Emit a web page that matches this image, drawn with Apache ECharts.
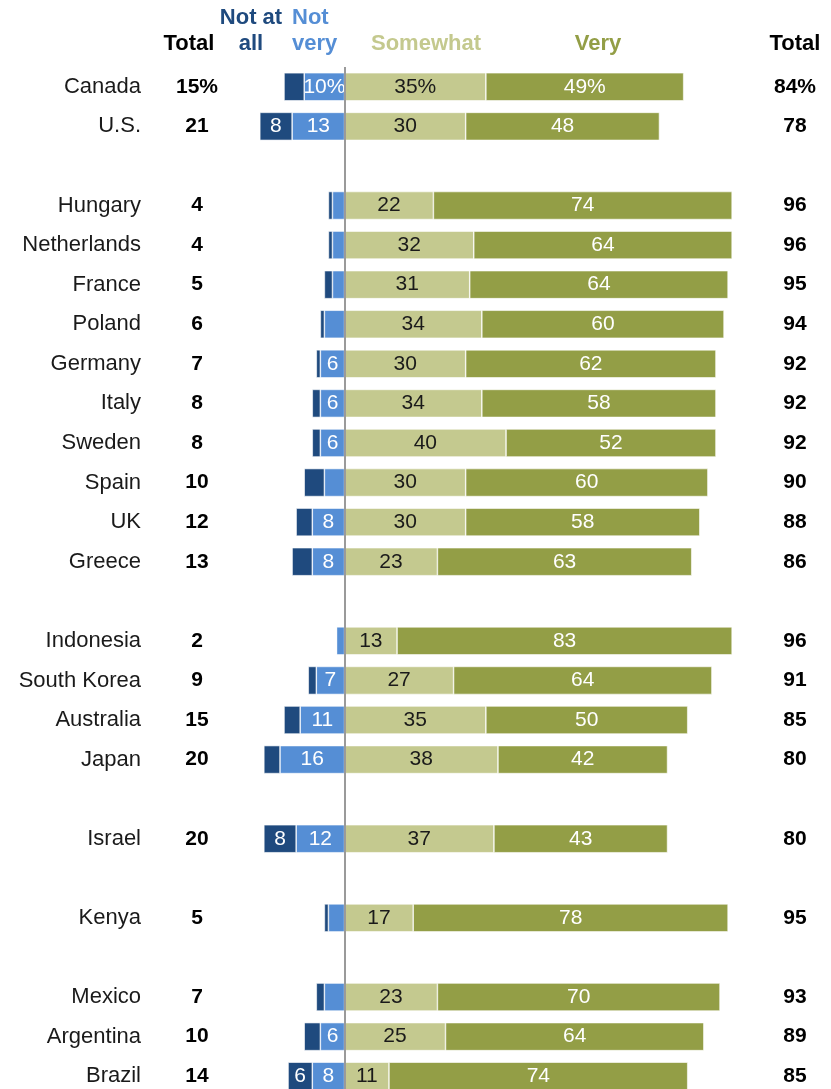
<!DOCTYPE html>
<html>
<head>
<meta charset="utf-8">
<script src="https://cdn.jsdelivr.net/npm/echarts@6/dist/echarts.min.js"></script>
<style>
html,body{margin:0;padding:0;background:#fff;}
#chart{width:831px;height:1089px;}
</style>
</head>
<body>
<div id="chart"></div>
<script>
const countries = ['Canada','U.S.',' ','Hungary','Netherlands','France','Poland','Germany','Italy','Sweden','Spain','UK','Greece','  ','Indonesia','South Korea','Australia','Japan','   ','Israel','    ','Kenya','     ','Mexico','Argentina','Brazil'];
const notAtAll = [5,8,null,1,1,2,1,1,2,2,5,4,5,null,0,2,4,4,null,8,null,1,null,2,4,6];
const notVery  = [10,13,null,3,3,3,5,6,6,6,5,8,8,null,2,7,11,16,null,12,null,4,null,5,6,8];
const somewhat = [35,30,null,22,32,31,34,30,34,40,30,30,23,null,13,27,35,38,null,37,null,17,null,23,25,11];
const very     = [49,48,null,74,64,64,60,62,58,52,60,58,63,null,83,64,50,42,null,43,null,78,null,70,64,74];
const totalNeg = ['15%','21','','4','4','5','6','7','8','8','10','12','13','','2','9','15','20','','20','','5','','7','10','14'];
const totalPos = ['84%','78','','96','96','95','94','92','92','92','90','88','86','','96','91','85','80','','80','','95','','93','89','85'];

const FONT = '"Liberation Sans", Arial, sans-serif';
const C_DARK = '#1f4a7e', C_LIGHT = '#558ed5', C_SOME = '#c4c98f', C_VERY = '#939e46';

const chart = echarts.init(document.getElementById('chart'), null, {renderer:'canvas'});

function lbl(color, minShow) {
  return {
    show: true, position: 'inside', color: color, fontFamily: FONT, fontSize: 21,
    formatter: p => {
      const v = Math.abs(p.value);
      if (p.value == null || v < minShow) return '';
      return v + (p.dataIndex === 0 ? '%' : '');
    }
  };
}
const base = {type:'bar', stack:'s', barWidth:28};
const hiddenAxis = {axisLine:{show:false}, axisTick:{show:false}, splitLine:{show:false}};

const option = {
  animation: false,
  textStyle: {fontFamily: FONT},
  grid: {left: 62, width: 767, top: 67, height: 1029, containLabel: false, outerBoundsMode: 'none'},
  xAxis: {type:'value', min:-70, max:120, show:false},
  yAxis: [
    Object.assign({type:'category', inverse:true, data:countries,
     axisLabel:{interval:0, margin:-79, align:'right', fontSize:22, color:'#1a1a1a', fontFamily:FONT,
       formatter:(v)=> v.trim()==='' ? '' : v}}, hiddenAxis),
    Object.assign({type:'category', inverse:true, position:'left', data:countries,
     axisLabel:{interval:0, margin:-135, align:'center', fontSize:21, fontWeight:'bold', color:'#000', fontFamily:FONT,
       formatter:(v,i)=> totalNeg[i]}}, hiddenAxis),
    Object.assign({type:'category', inverse:true, position:'right', data:countries,
     axisLabel:{interval:0, margin:-34, align:'center', fontSize:21, fontWeight:'bold', color:'#000', fontFamily:FONT,
       formatter:(v,i)=> totalPos[i]}}, hiddenAxis)
  ],
  series: [
    Object.assign({}, base, {name:'Not very', data: notVery.map(v=> v==null?null:-v),
      itemStyle:{color:C_LIGHT, borderColor:'#fff', borderWidth:0.6}, label: lbl('#fff', 6)}),
    Object.assign({}, base, {name:'Not at all', data: notAtAll.map(v=> v==null?null:-v),
      itemStyle:{color:C_DARK, borderColor:'#fff', borderWidth:0.6}, label: lbl('#fff', 6)}),
    Object.assign({}, base, {name:'Somewhat', data: somewhat,
      itemStyle:{color:C_SOME, borderColor:'#fff', borderWidth:0.6}, label: lbl('#1a1a1a', 0)}),
    Object.assign({}, base, {name:'Very', data: very,
      itemStyle:{color:C_VERY, borderColor:'#fff', borderWidth:0.6}, label: lbl('#fff', 0),
      markLine:{silent:true, symbol:['none','none'], label:{show:false},
        lineStyle:{color:'#9a9a9a', width:2, type:'solid'}, data:[{xAxis:0}]}})
  ],
  graphic: [
    {type:'text', x:189, y:44, style:{text:'Total', font:'bold 22px '+FONT, fill:'#000', align:'center', verticalAlign:'middle'}},
    {type:'text', x:251, y:18, style:{text:'Not at', font:'bold 22px '+FONT, fill:C_DARK, align:'center', verticalAlign:'middle'}},
    {type:'text', x:251, y:44, style:{text:'all', font:'bold 22px '+FONT, fill:C_DARK, align:'center', verticalAlign:'middle'}},
    {type:'text', x:292, y:18, style:{text:'Not', font:'bold 22px '+FONT, fill:C_LIGHT, align:'left', verticalAlign:'middle'}},
    {type:'text', x:292, y:44, style:{text:'very', font:'bold 22px '+FONT, fill:C_LIGHT, align:'left', verticalAlign:'middle'}},
    {type:'text', x:426, y:44, style:{text:'Somewhat', font:'bold 22px '+FONT, fill:'#c4c98e', align:'center', verticalAlign:'middle'}},
    {type:'text', x:598, y:44, style:{text:'Very', font:'bold 22px '+FONT, fill:'#939e46', align:'center', verticalAlign:'middle'}},
    {type:'text', x:795, y:44, style:{text:'Total', font:'bold 22px '+FONT, fill:'#000', align:'center', verticalAlign:'middle'}}
  ]
};
chart.setOption(option);
</script>
</body>
</html>
